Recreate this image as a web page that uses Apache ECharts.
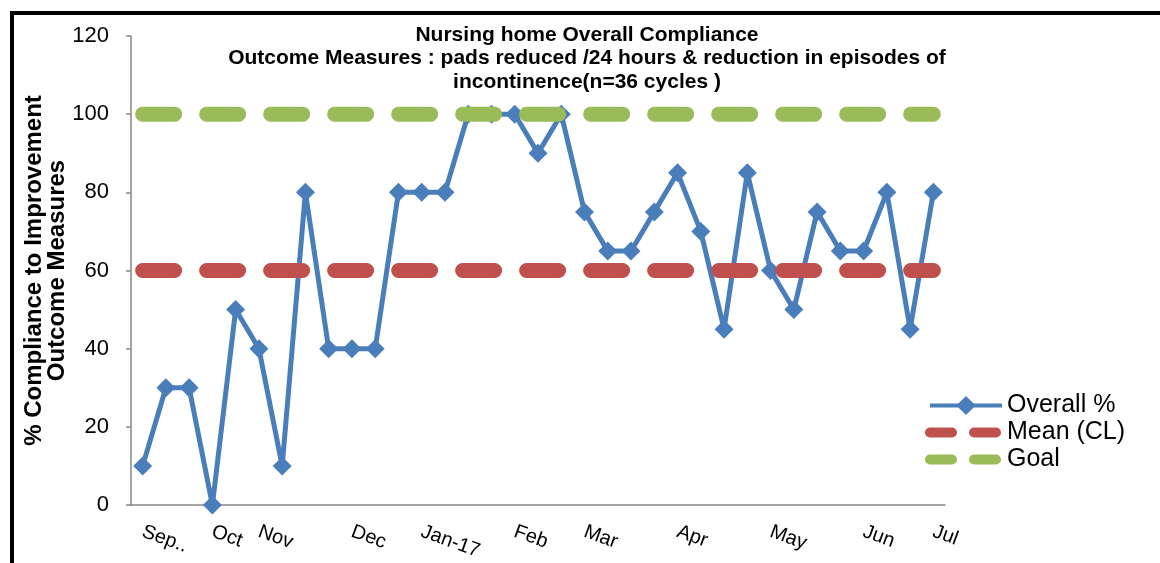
<!DOCTYPE html>
<html>
<head>
<meta charset="utf-8">
<script src="https://cdn.jsdelivr.net/npm/echarts@6/dist/echarts.min.js"></script>
<style>
  html, body { margin: 0; padding: 0; background: #fff; }
  #frame { position: absolute; left: 10px; top: 11px; width: 1200px; height: 620px; border: 4px solid #000; }
  #main { position: absolute; left: 0; top: 0; width: 1160px; height: 563px; }
</style>
</head>
<body>
<div id="frame"></div>
<div id="main"></div>
<script>
// categories (35 cycles), only month starts carry a label
var months = ["Sep..", "", "", "Oct", "", "Nov", "", "", "", "Dec", "", "", "Jan-17", "", "", "",
  "Feb", "", "", "Mar", "", "", "", "Apr", "", "", "", "May", "", "", "", "Jun", "", "", "Jul"];
var overall = [10, 30, 30, 0, 50, 40, 10, 80, 40, 40, 40, 80, 80, 80, 100, 100, 100, 90, 100,
  75, 65, 65, 75, 85, 70, 45, 85, 60, 50, 75, 65, 65, 80, 45, 80];
var meanValue = 60;
var goalValue = 100;
var meanLine = months.map(function () { return meanValue; });
var goalLine = months.map(function () { return goalValue; });

var chart = echarts.init(document.getElementById("main"));
var font = "'Liberation Sans', Arial, sans-serif";

chart.setOption({
  animation: false,
  title: {
    text: "Nursing home Overall Compliance\nOutcome Measures : pads reduced /24 hours & reduction in episodes of\nincontinence(n=36 cycles )",
    left: 582,
    top: 18,
    textAlign: "center",
    textStyle: { fontFamily: font, fontSize: 21, fontWeight: "bold", color: "#000", lineHeight: 23.5 }
  },
  grid: { left: 131, right: 215, top: 36, bottom: 58 },
  legend: {
    orient: "vertical",
    left: 920,
    top: 388,
    itemWidth: 72,
    itemHeight: 24,
    itemGap: 2,
    textStyle: { fontFamily: font, fontSize: 25, color: "#000" },
    data: [
      { name: "Overall %", lineStyle: { width: 4 } },
      { name: "Mean (CL)", itemStyle: { opacity: 0 }, lineStyle: { width: 10, type: [22, 22], cap: "round" } },
      { name: "Goal", itemStyle: { opacity: 0 }, lineStyle: { width: 10, type: [22, 22], cap: "round" } }
    ]
  },
  xAxis: {
    type: "category",
    data: months,
    boundaryGap: true,
    axisLine: { lineStyle: { color: "#868686", width: 1.5 } },
    axisTick: { interval: 0, length: 5, lineStyle: { color: "#868686", width: 1.5 } },
    axisLabel: { interval: 0, rotate: -20, margin: 26, fontFamily: font, fontSize: 20, color: "#000" }
  },
  yAxis: {
    type: "value",
    min: 0,
    max: 120,
    interval: 20,
    name: "% Compliance to Improvement\nOutcome Measures",
    nameLocation: "middle",
    nameRotate: 90,
    nameGap: 62,
    nameMoveOverlap: false,
    nameTextStyle: { fontFamily: font, fontSize: 24, fontWeight: "bold", color: "#000", lineHeight: 23 },
    splitLine: { show: false },
    axisLine: { show: true, lineStyle: { color: "#868686", width: 1.5 } },
    axisTick: { show: true, length: 5, lineStyle: { color: "#868686", width: 1.5 } },
    axisLabel: { margin: 22, fontFamily: font, fontSize: 22, color: "#000" }
  },
  series: [
    {
      name: "Overall %",
      type: "line",
      data: overall,
      symbol: "diamond",
      symbolSize: 19,
      z: 2,
      itemStyle: { color: "#4A7EBB" },
      lineStyle: { color: "#4A7EBB", width: 5 }
    },
    {
      name: "Mean (CL)",
      type: "line",
      data: meanLine,
      symbol: "none",
      z: 3,
      itemStyle: { color: "#C0504D" },
      lineStyle: { color: "#C0504D", width: 15, type: [32, 32], cap: "round" }
    },
    {
      name: "Goal",
      type: "line",
      data: goalLine,
      symbol: "none",
      z: 4,
      itemStyle: { color: "#9BBB59" },
      lineStyle: { color: "#9BBB59", width: 15, type: [32, 32], cap: "round" }
    }
  ]
});
</script>
</body>
</html>
